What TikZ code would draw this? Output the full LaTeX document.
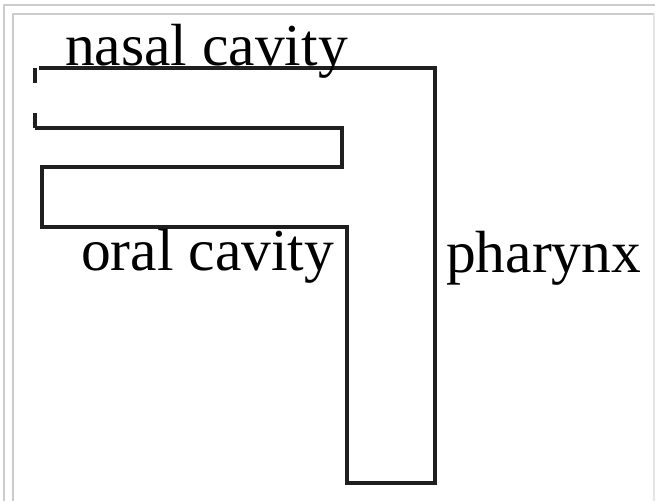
\documentclass[tikz,border=0pt]{standalone}
\usepackage{fontspec}
\setmainfont{Liberation Serif}
\begin{document}
\begin{tikzpicture}[x=1pt,y=-1pt,
  frame/.style={draw=black!20,line width=2pt},
  wall/.style={draw=black!88,line width=3.4pt,line join=miter},
  lbl/.style={inner sep=0pt,anchor=base west,font=\fontsize{59.5}{60}\selectfont}]
\useasboundingbox (0,0) rectangle (655,501);
% frames
\draw[frame] (4,501) -- (4,5) -- (655,5);
\draw[frame] (13,501) -- (13,14) -- (654,14);
\draw[draw=black!10,line width=1.5pt] (654,14) -- (654,501);
% outline
\coordinate (nt) at (39,68);
\coordinate (pr) at (435,68);
\coordinate (pb) at (435,483);
\coordinate (pl) at (347,483);
\coordinate (oc) at (347,227);
\coordinate (ol) at (42,227);
\coordinate (ou) at (42,167);
\coordinate (br) at (342,167);
\coordinate (tr) at (342,128);
\coordinate (nl) at (35,128);
\coordinate (dt) at (35,68);
\draw[wall] (nt) -- (pr) -- (pb) -- (pl) -- (oc) -- (ol) -- (ou) -- (br) -- (tr) -- (nl);
\draw[wall,dash pattern=on 15pt off 30pt] (dt) -- (nl);
% labels
\node[lbl] (nasal) at (65,65) {nasal cavity};
\node[lbl] (oral) at (81,270) {oral cavity};
\node[lbl] (phar) at (446,272) {pharynx};
\end{tikzpicture}
\end{document}
